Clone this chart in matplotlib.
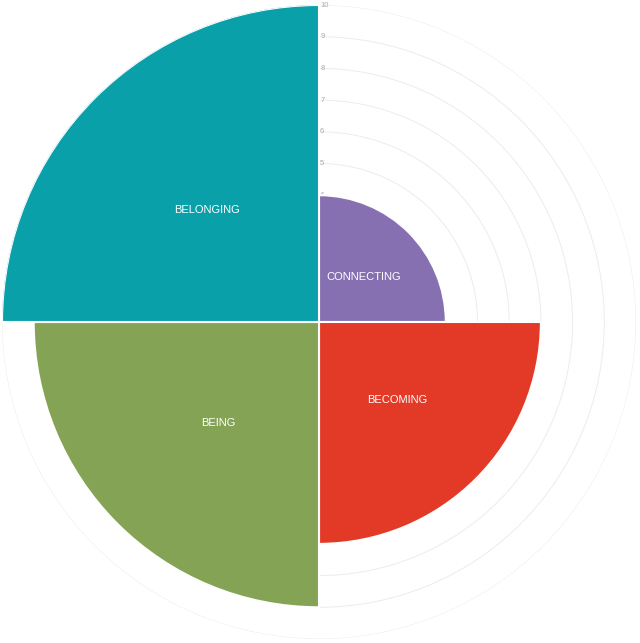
import numpy as np
import matplotlib.pyplot as plt

plt.rcParams["font.family"] = ["Liberation Sans", "DejaVu Sans"]

categories = ["CONNECTING", "BECOMING", "BEING", "BELONGING"]
values = [4, 7, 9, 10]
colors = ["#8670b1", "#e23a27", "#84a354", "#09a0a9"]

fig = plt.figure(figsize=(6.4, 6.43), dpi=100)
ax = fig.add_axes([2 / 640, 4 / 643, 634 / 640, 634 / 643], projection="polar")
ax.set_theta_zero_location("N")
ax.set_theta_direction(-1)

n = len(categories)
width = 2 * np.pi / n
theta = np.arange(n) * width

ax.bar(theta, values, width=width, align="edge", color=colors,
       edgecolor="white", linewidth=1.5, zorder=3)

for t, v, c in zip(theta, values, categories):
    ax.text(t + width / 2, v / 2, c, color="white", fontsize=8,
            ha="center", va="center", zorder=4)

ax.set_ylim(0, 10)
ax.set_yticks(range(1, 11))
ax.set_yticklabels([str(i) for i in range(1, 11)], fontsize=5.5, color="#a8a8a8")
ax.set_rlabel_position(0.3)
ax.tick_params(axis="y", pad=-1)
for lab in ax.get_yticklabels():
    lab.set_verticalalignment("center")
    lab.set_horizontalalignment("left")
ax.set_xticks([])
ax.yaxis.grid(True, color="#ececec", linewidth=0.7)
ax.xaxis.grid(False)
ax.spines["polar"].set_visible(False)

fig.savefig("out.png", dpi=100)
